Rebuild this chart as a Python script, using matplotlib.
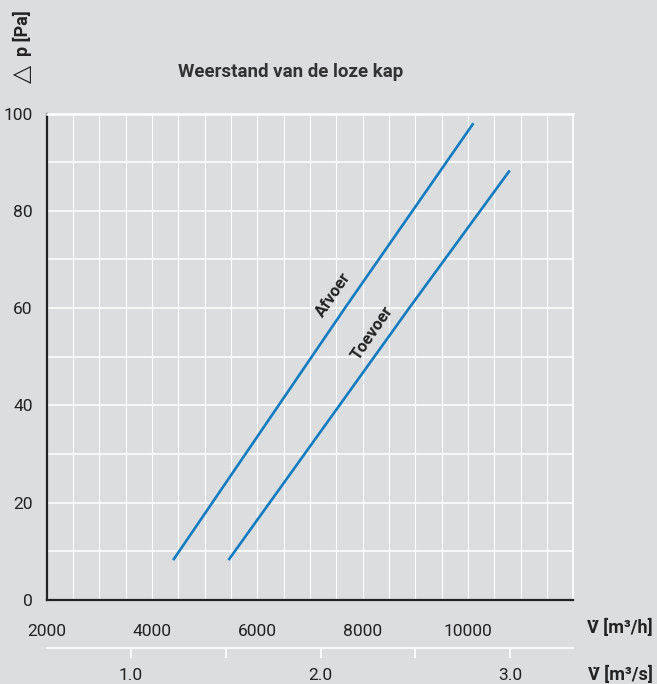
import numpy as np
import matplotlib
matplotlib.use('Agg')
import matplotlib.pyplot as plt
from matplotlib.ticker import FixedLocator, MultipleLocator, FormatStrFormatter

plt.rcParams['font.family'] = ['Roboto', 'DejaVu Sans']

# data
afvoer_v = [4400, 7660, 10100]      # m3/h
afvoer_dp = [8.2, 60, 98]           # Pa
toevoer_v = [5450, 8880, 10790]
toevoer_dp = [8.2, 60, 88.3]

x_ticks = [2000, 4000, 6000, 8000, 10000]
y_ticks = [0, 20, 40, 60, 80, 100]
s_ticks = [1.0, 2.0, 3.0]
s_minor = [1.5, 2.5]

bg = '#dcdddf'
blue = '#137cc0'
dark = '#222222'

fig = plt.figure(figsize=(6.57, 6.84), dpi=100, facecolor=bg)
ax = fig.add_axes([0.0711, 0.1228, 0.8018, 0.7112], facecolor=bg)

ax.plot(afvoer_v, afvoer_dp, color=blue, lw=1.9, solid_capstyle='butt')
ax.plot(toevoer_v, toevoer_dp, color=blue, lw=1.9, solid_capstyle='butt')

ax.set_xlim(2000, 12000)
ax.set_ylim(0, 100)
ax.xaxis.set_major_locator(FixedLocator(x_ticks))
ax.xaxis.set_minor_locator(MultipleLocator(500))
ax.yaxis.set_major_locator(FixedLocator(y_ticks))
ax.yaxis.set_minor_locator(MultipleLocator(10))
ax.xaxis.grid(which='both', color='white', lw=0.8)
ax.yaxis.grid(which='both', color='white', lw=1.1)
ax.set_axisbelow(True)
ax.tick_params(which='both', length=0)
ax.tick_params(axis='x', pad=17, labelsize=12.5, labelcolor=dark)
ax.tick_params(axis='y', pad=10, labelsize=12.5, labelcolor=dark)

for s in ('left', 'bottom'):
    ax.spines[s].set_color(dark)
    ax.spines[s].set_linewidth(1.6)
ax.spines['top'].set_color('white')
ax.spines['top'].set_linewidth(1.8)
ax.spines['right'].set_color('white')
ax.spines['right'].set_linewidth(1.2)

# line labels
ang = 55.6
ax.text(7443, 62.7, 'Afvoer', rotation=ang, ha='center', va='center',
        fontsize=12, fontweight='bold', color=dark, rotation_mode='anchor')
ax.text(8184, 54.9, 'Toevoer', rotation=ang, ha='center', va='center',
        fontsize=12, fontweight='bold', color=dark, rotation_mode='anchor')

# secondary axis in m3/s
sec = ax.secondary_xaxis(-0.0987, functions=(lambda h: h / 3600.0, lambda s: s * 3600.0))
sec.spines['bottom'].set_color('white')
sec.spines['bottom'].set_linewidth(1.2)
sec.xaxis.set_major_locator(FixedLocator(s_ticks))
sec.xaxis.set_minor_locator(FixedLocator(s_minor))
sec.xaxis.set_major_formatter(FormatStrFormatter('%.1f'))
sec.tick_params(which='both', direction='out', length=7.2, width=1.2, color='white',
                labelsize=12.5, labelcolor=dark, pad=7)

# texts
fig.text(0.443, 0.895, 'Weerstand van de loze kap', ha='center', va='center',
         fontsize=13.5, fontweight='bold', color='#333333')
fig.text(0.034, 0.892, '\u25b3', rotation=90, ha='center', va='center',
         fontsize=17, color=dark, family='DejaVu Sans')
fig.text(0.034, 0.951, 'p [Pa]', rotation=90, ha='center', va='center',
         fontsize=13, fontweight='bold', color=dark)
fig.text(0.994, 0.0819, 'V\u0307 [m\u00b3/h]', ha='right', va='center',
         fontsize=13, fontweight='bold', color=dark)
fig.text(0.994, 0.0132, 'V\u0307 [m\u00b3/s]', ha='right', va='center',
         fontsize=13, fontweight='bold', color=dark)

fig.savefig('out.png', dpi=100, facecolor=bg)
